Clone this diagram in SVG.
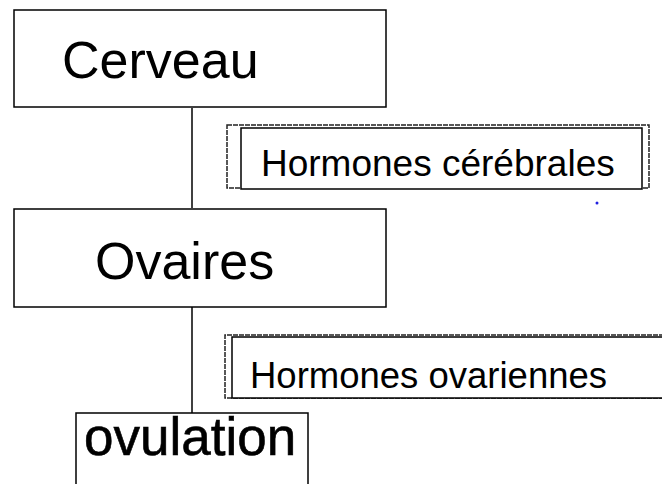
<svg xmlns="http://www.w3.org/2000/svg" width="662" height="484" viewBox="0 0 662 484">
<style>
.box{fill:#fff;stroke:#000;stroke-width:1.5}
.outer{fill:none;stroke:#222;stroke-width:1.5;stroke-dasharray:5 1}
.big{font-family:"Liberation Sans",Arial,sans-serif;font-size:52px;fill:#000}
.mid{font-family:"Liberation Sans",Arial,sans-serif;font-size:36.5px;fill:#000}
.conn{stroke:#000;stroke-width:1.5;fill:none}
</style>
<rect width="662" height="484" fill="#fff"/>
<g id="connectors">
<line class="conn" x1="192" y1="108" x2="192" y2="208"/>
<line class="conn" x1="192" y1="307" x2="192" y2="413"/>
</g>
<g id="cerveau">
<rect class="box" x="14" y="10" width="372" height="97"/>
<text class="big" x="62" y="78">Cerveau</text>
</g>
<g id="hormones-cerebrales">
<rect class="outer" x="227" y="125" width="422" height="63"/>
<rect class="box" x="241" y="128" width="401" height="61"/>
<text class="mid" x="261" y="176" style="font-size:37px">Hormones cérébrales</text>
</g>
<g id="ovaires">
<rect class="box" x="14" y="209" width="372" height="98"/>
<text class="big" x="95" y="279">Ovaires</text>
</g>
<g id="hormones-ovariennes">
<path class="outer" d="M670,335 H225 V398 H670"/>
<rect class="box" x="232" y="337" width="440" height="61"/>
<text class="mid" x="250" y="388">Hormones ovariennes</text>
</g>
<g id="ovulation">
<rect class="box" x="76" y="413" width="232" height="80"/>
<text class="big" x="84" y="455" style="font-size:53px;stroke:#000;stroke-width:0.6">ovulation</text>
</g>
<circle cx="597" cy="203" r="1.5" fill="#2020e0"/>
</svg>
